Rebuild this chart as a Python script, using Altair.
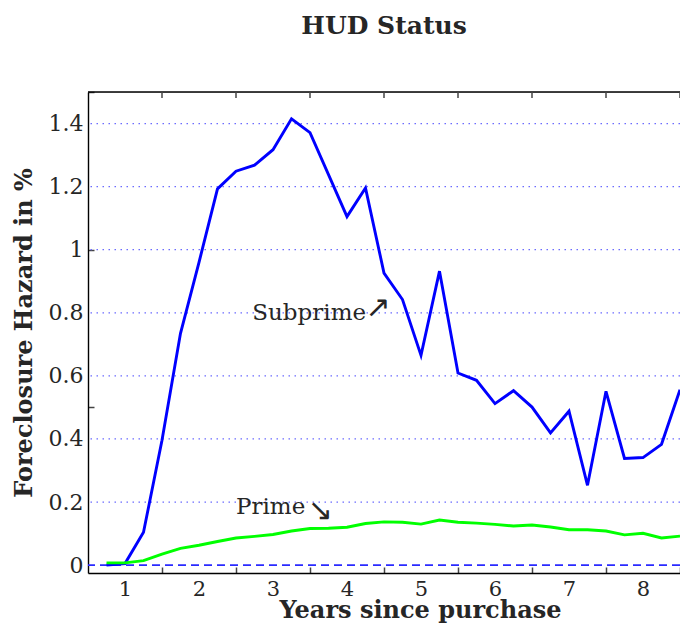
import altair as alt
import pandas as pd

years = [0.75, 1.0, 1.25, 1.5, 1.75, 2.0, 2.25, 2.5, 2.75, 3.0, 3.25, 3.5, 3.75, 4.0,
         4.25, 4.5, 4.75, 5.0, 5.25, 5.5, 5.75, 6.0, 6.25, 6.5, 6.75, 7.0, 7.25, 7.5,
         7.75, 8.0, 8.25, 8.5]
subprime = [0.0, 0.005, 0.104, 0.396, 0.735, 0.96, 1.193, 1.249, 1.268, 1.317, 1.415,
            1.371, 1.238, 1.105, 1.196, 0.926, 0.842, 0.665, 0.932, 0.609, 0.586, 0.512,
            0.553, 0.501, 0.419, 0.488, 0.253, 0.551, 0.338, 0.341, 0.383, 0.556]
prime = [0.007, 0.007, 0.014, 0.035, 0.053, 0.063, 0.075, 0.086, 0.091, 0.097, 0.108,
         0.116, 0.117, 0.120, 0.132, 0.137, 0.136, 0.130, 0.143, 0.136, 0.133, 0.129,
         0.124, 0.127, 0.121, 0.112, 0.112, 0.108, 0.096, 0.101, 0.086, 0.092]
series_names = ["Subprime", "Prime"]
series_colors = ["#0000ff", "#00ff00"]

x_label_values = [1, 2, 3, 4, 5, 6, 7, 8]
x_tick_values = [1.5, 2.5, 3.5, 4.5, 5.5, 6.5, 7.5, 8.5]
y_label_values = [0, 0.2, 0.4, 0.6, 0.8, 1.0, 1.2, 1.4]
y_tick_values = [0.5, 1.0, 1.5]
grid_values = [0.2, 0.4, 0.6, 0.8, 1.0, 1.2, 1.4]

ann_text = ["Subprime", "Prime"]
ann_x = [2.72, 2.50]
ann_y = [0.80, 0.185]
arrow_text = ["\u2197", "\u2198"]
arrow_x = [4.42, 3.64]
arrow_y = [0.815, 0.17]

FONT = "DejaVu Serif"
TXT = "#262626"

df = pd.DataFrame({
    "year": years * 2,
    "hazard": subprime + prime,
    "series": ["Subprime"] * len(years) + ["Prime"] * len(years),
})
ann = pd.DataFrame({"year": ann_x, "hazard": ann_y, "label": ann_text})
arrows = pd.DataFrame({"year": arrow_x, "hazard": arrow_y, "label": arrow_text})
zero = pd.DataFrame({"hazard": [0.0]})
grid = pd.DataFrame({"hazard": grid_values})
top_ticks = pd.DataFrame({"year": x_tick_values, "hazard": [1.5] * len(x_tick_values)})

x_scale = alt.Scale(domain=[0.5, 8.5], nice=False, zero=False)
y_scale = alt.Scale(domain=[-0.025, 1.5], nice=False, zero=False)

x_axis_bottom = alt.Axis(
    values=sorted(x_label_values + x_tick_values),
    labelExpr="datum.value % 1 === 0 ? toString(datum.value) : ''",
    tickOpacity={"condition": {"test": "datum.value % 1 !== 0", "value": 1}, "value": 0},
    tickSize={"expr": "-6"}, tickColor="#444444", tickWidth=1.5,
    grid=False, domainColor="#000000", domainWidth=1.4,
    labelFont=FONT, labelFontSize=21, labelColor=TXT, labelPadding=28,
    labelBaseline="alphabetic", labelFlush=False, labelOverlap=False,
    title="Years since purchase", titleFont=FONT, titleFontSize=24,
    titleFontWeight="bold", titleColor=TXT, titleX=332, titleY=44,
    titleAlign="center", titleBaseline="alphabetic",
)
y_axis = alt.Axis(
    orient="left",
    values=sorted(set(y_label_values + y_tick_values)),
    format=".1~f",
    labelExpr="(datum.value === 0.5 || datum.value === 1.5) ? '' : datum.label",
    tickOpacity={"condition": {"test": "datum.value === 0.5 || datum.value === 1 || datum.value === 1.5", "value": 1}, "value": 0},
    tickSize={"expr": "-6"}, tickColor="#444444", tickWidth=1.5,
    grid=False, domainColor="#000000", domainWidth=1.4,
    labelFont=FONT, labelFontSize=22, labelColor=TXT, labelPadding=11,
    labelFlush=False, labelOverlap=False,
    title="Foreclosure Hazard in %", titleFont=FONT, titleFontSize=24,
    titleFontWeight="bold", titleColor=TXT, titlePadding=12,
)

x_enc = alt.X("year:Q", scale=x_scale, axis=x_axis_bottom)
y_enc = alt.Y("hazard:Q", scale=y_scale, axis=y_axis)

lines = alt.Chart(df).mark_line(strokeWidth=2.9).encode(
    x=x_enc,
    y=y_enc,
    color=alt.Color("series:N", scale=alt.Scale(domain=series_names, range=series_colors), legend=None),
    detail="series:N",
)

top_frame = alt.Chart(zero).mark_rule(color="#000000", strokeWidth=1.4).encode(
    x=alt.value(0), x2=alt.value(592), y=alt.value(0),
)
top_tick_marks = alt.Chart(top_ticks).mark_rule(color="#444444", strokeWidth=1.5).encode(
    x=x_enc, y=y_enc, y2=alt.value(6),
)

grid_rules = alt.Chart(grid).mark_rule(
    color="#6b6bff", strokeDash=[1.5, 4.5], strokeWidth=1.2
).encode(y=y_enc)

zero_rule = alt.Chart(zero).mark_rule(
    color="#2a2aff", strokeDash=[8, 5], strokeWidth=1.6
).encode(y=y_enc)

labels = alt.Chart(ann).mark_text(
    align="left", baseline="middle", font=FONT, fontSize=23, color=TXT
).encode(x=x_enc, y=y_enc, text="label:N")

arrow_marks = alt.Chart(arrows).mark_text(
    align="center", baseline="middle", font="DejaVu Sans", fontSize=30, color=TXT
).encode(x=x_enc, y=y_enc, text="label:N")

chart = alt.layer(
    grid_rules, zero_rule, lines, top_frame, top_tick_marks, labels, arrow_marks
).properties(
    width=592, height=481,
    autosize=alt.AutoSizeParams(type="none"),
    padding={"left": 80, "top": 84, "right": 0, "bottom": 50},
    title=alt.Title("HUD Status", font=FONT, fontSize=25, fontWeight="bold",
                    color=TXT, offset=42, anchor="middle"),
).configure_view(stroke="transparent").configure(background="white")

chart.save("out.html", embed_options={"renderer": "svg", "actions": False})
